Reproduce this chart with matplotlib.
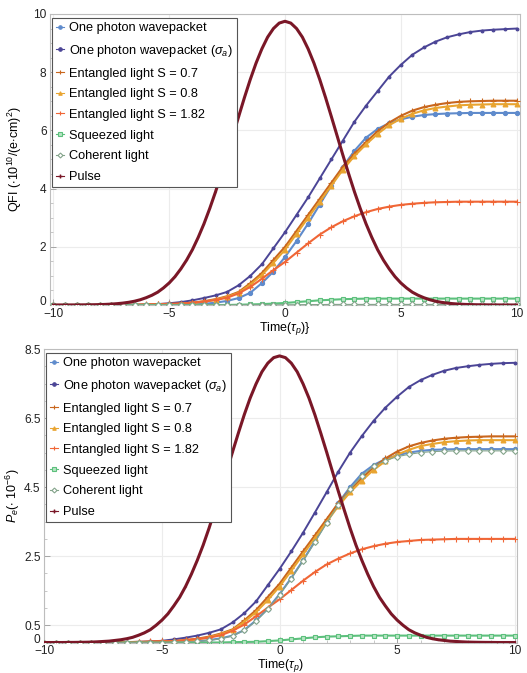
import numpy as np
import matplotlib
matplotlib.use('Agg')
import matplotlib.pyplot as plt
import matplotlib.transforms as mtrans
from matplotlib.ticker import MultipleLocator

plt.rcParams['font.family'] = ['Liberation Sans', 'DejaVu Sans']
plt.rcParams['mathtext.fontset'] = 'custom'
plt.rcParams['mathtext.rm'] = 'Liberation Sans'
plt.rcParams['mathtext.it'] = 'Liberation Sans:italic'

# time grid, tau_p units
t = np.linspace(-10, 10, 41)
# the pulse is sampled on a finer grid
tp = np.linspace(-10, 10, 81)

labels = ['One photon wavepacket', r'One photon wavepacket ($\sigma_a$)',
          'Entangled light S = 0.7', 'Entangled light S = 0.8',
          'Entangled light S = 1.82', 'Squeezed light', 'Coherent light', 'Pulse']

# ---- QFI panel ----
qfi_one = [0, 0, 0, 0, 0, 0, 0, 0, 0, 0, 0, 0.01, 0.02, 0.04, 0.08, 0.14, 0.24, 0.42, 0.75, 1.15,
           1.65, 2.2, 2.8, 3.45, 4.1, 4.75, 5.3, 5.75, 6.05, 6.25, 6.38, 6.47, 6.53, 6.56, 6.58, 6.59,
           6.6, 6.6, 6.6, 6.6, 6.6]
qfi_sig = [0, 0, 0, 0, 0, 0, 0.01, 0.01, 0.02, 0.03, 0.06, 0.1, 0.16, 0.24, 0.33, 0.45, 0.68, 1.0, 1.4, 1.95,
           2.5, 3.1, 3.7, 4.35, 5.0, 5.65, 6.3, 6.85, 7.35, 7.85, 8.25, 8.6, 8.85, 9.05, 9.2, 9.3,
           9.38, 9.43, 9.46, 9.48, 9.5]
qfi_s07 = [0, 0, 0, 0, 0, 0, 0, 0, 0.01, 0.02, 0.03, 0.05, 0.08, 0.13, 0.2, 0.3, 0.45, 0.75, 1.1, 1.55,
           2.0, 2.55, 3.1, 3.65, 4.2, 4.75, 5.2, 5.6, 5.97, 6.27, 6.5, 6.68, 6.8, 6.88, 6.94, 6.98,
           7.0, 7.01, 7.02, 7.02, 7.02]
qfi_s08 = [0, 0, 0, 0, 0, 0, 0, 0, 0.01, 0.01, 0.02, 0.04, 0.07, 0.11, 0.18, 0.28, 0.42, 0.7, 1.03, 1.45,
           1.9, 2.45, 3.0, 3.55, 4.1, 4.65, 5.12, 5.52, 5.88, 6.18, 6.4, 6.57, 6.69, 6.77, 6.82, 6.86,
           6.88, 6.89, 6.9, 6.9, 6.9]
qfi_s182 = [0, 0, 0, 0, 0, 0, 0.01, 0.01, 0.02, 0.03, 0.04, 0.05, 0.08, 0.12, 0.17, 0.25, 0.4, 0.62, 0.9, 1.2,
            1.48, 1.8, 2.12, 2.42, 2.67, 2.88, 3.05, 3.19, 3.3, 3.38, 3.44, 3.48, 3.51, 3.53, 3.54, 3.55,
            3.55, 3.55, 3.55, 3.55, 3.55]
qfi_sq = [0, 0, 0, 0, 0, 0, 0, 0, 0, 0, 0, 0, 0, 0, 0, 0, 0.01, 0.02, 0.03, 0.05,
          0.07, 0.1, 0.13, 0.16, 0.18, 0.2, 0.21, 0.22, 0.22, 0.22, 0.22, 0.22, 0.22, 0.22, 0.22, 0.22,
          0.22, 0.22, 0.22, 0.22, 0.22]
qfi_coh = [0, 0, 0, 0, 0, 0, 0, 0, 0, 0, 0, 0, 0, 0, 0, 0, 0, 0, 0.005, 0.005,
           0.01, 0.01, 0.015, 0.015, 0.02, 0.02, 0.02, 0.02, 0.02, 0.02, 0.02, 0.02, 0.02, 0.02, 0.02, 0.02,
           0.02, 0.02, 0.02, 0.02, 0.02]
qfi_pulse = [0, 0, 0, 0.001, 0.002,
             0.004, 0.006, 0.009, 0.014, 0.021, 0.031, 0.046, 0.066, 0.093, 0.13, 0.181, 0.25,
             0.334, 0.44, 0.586, 0.76, 0.975, 1.24, 1.544, 1.9, 2.321, 2.79, 3.318, 3.89, 4.507,
             5.15, 5.817, 6.48, 7.133, 7.75, 8.313, 8.8, 9.206, 9.5, 9.688,
             9.75,
             9.688, 9.5, 9.206, 8.8, 8.313, 7.75, 7.133, 6.48, 5.817, 5.15,
             4.507, 3.89, 3.318, 2.79, 2.321, 1.9, 1.544, 1.24, 0.975, 0.76, 0.586, 0.44, 0.334,
             0.25, 0.181, 0.13, 0.093, 0.066, 0.046, 0.031, 0.021, 0.014, 0.009, 0.006, 0.004,
             0.002, 0.001, 0, 0, 0]

# ---- P_e panel ----
pe_one = [0, 0, 0, 0, 0, 0, 0, 0, 0, 0, 0, 0.01, 0.02, 0.03, 0.07, 0.12, 0.2, 0.36, 0.64, 0.98,
          1.4, 1.87, 2.38, 2.93, 3.49, 4.04, 4.5, 4.89, 5.14, 5.31, 5.42, 5.5, 5.55, 5.58, 5.59, 5.6,
          5.6, 5.6, 5.6, 5.6, 5.6]
pe_sig = [0, 0, 0, 0, 0, 0, 0.01, 0.01, 0.02, 0.03, 0.05, 0.09, 0.14, 0.2, 0.28, 0.38, 0.58, 0.85, 1.19, 1.66,
          2.13, 2.64, 3.18, 3.76, 4.35, 4.95, 5.5, 5.98, 6.42, 6.8, 7.12, 7.4, 7.6, 7.75, 7.87, 7.95,
          8.0, 8.04, 8.07, 8.09, 8.1]
pe_s07 = [0, 0, 0, 0, 0, 0, 0, 0, 0.01, 0.02, 0.03, 0.04, 0.07, 0.11, 0.17, 0.26, 0.38, 0.64, 0.94, 1.32,
          1.7, 2.17, 2.64, 3.1, 3.57, 4.04, 4.42, 4.76, 5.07, 5.33, 5.53, 5.68, 5.78, 5.85, 5.9, 5.93,
          5.95, 5.96, 5.97, 5.97, 5.97]
pe_s08 = [0, 0, 0, 0, 0, 0, 0, 0, 0.01, 0.01, 0.02, 0.03, 0.06, 0.09, 0.15, 0.24, 0.36, 0.6, 0.88, 1.23,
          1.62, 2.08, 2.55, 3.02, 3.49, 3.95, 4.35, 4.69, 5.0, 5.25, 5.44, 5.58, 5.69, 5.75, 5.8, 5.83,
          5.85, 5.86, 5.86, 5.86, 5.86]
pe_s182 = [0, 0, 0, 0, 0, 0, 0.01, 0.01, 0.02, 0.03, 0.04, 0.04, 0.07, 0.1, 0.14, 0.21, 0.34, 0.52, 0.76, 1.01,
           1.25, 1.52, 1.79, 2.04, 2.26, 2.43, 2.58, 2.7, 2.79, 2.86, 2.91, 2.94, 2.97, 2.98, 2.99, 3.0,
           3.0, 3.0, 3.0, 3.0, 3.0]
pe_sq = [0, 0, 0, 0, 0, 0, 0, 0, 0, 0, 0, 0, 0, 0, 0, 0, 0.01, 0.015, 0.02, 0.04,
         0.06, 0.09, 0.12, 0.15, 0.17, 0.18, 0.19, 0.2, 0.2, 0.2, 0.2, 0.2, 0.2, 0.2, 0.2, 0.2,
         0.2, 0.2, 0.2, 0.2, 0.2]
pe_coh = [0, 0, 0, 0, 0, 0, 0, 0, 0, 0, 0, 0.01, 0.02, 0.03, 0.06, 0.11, 0.19, 0.35, 0.62, 0.96,
          1.38, 1.85, 2.36, 2.9, 3.45, 3.99, 4.44, 4.83, 5.1, 5.27, 5.38, 5.45, 5.5, 5.53, 5.54, 5.55,
          5.55, 5.55, 5.55, 5.55, 5.55]
pe_pulse = [0, 0, 0, 0, 0.002,
            0.003, 0.005, 0.008, 0.012, 0.02, 0.03, 0.04, 0.06, 0.08, 0.11, 0.15, 0.21,
            0.28, 0.37, 0.5, 0.65, 0.83, 1.06, 1.31, 1.62, 1.98, 2.38, 2.82, 3.31, 3.84,
            4.38, 4.95, 5.52, 6.07, 6.6, 7.08, 7.49, 7.84, 8.09, 8.25,
            8.3,
            8.25, 8.09, 7.84, 7.49, 7.08, 6.6, 6.07, 5.52, 4.95, 4.38,
            3.84, 3.31, 2.82, 2.38, 1.98, 1.62, 1.31, 1.06, 0.83, 0.65, 0.5, 0.37, 0.28,
            0.21, 0.15, 0.11, 0.08, 0.06, 0.04, 0.03, 0.02, 0.012, 0.008, 0.005, 0.003,
            0.002, 0, 0, 0, 0]

colors = ['#5f8bcc', '#4b4596', '#c9661d', '#e9a430', '#f06636', '#5cc07c', '#84a48b', '#7a1727']
markers = ['o', 'o', '+', '^', '+', 's', 'D', '+']
msizes = [3, 2, 4, 3.5, 4, 3.5, 3, 2]
mfaces = ['#5f8bcc', '#4b4596', '#c9661d', '#e9a430', '#f06636', '#b7e4c4', 'white', '#7a1727']
lws = [1.5, 1.4, 1.5, 1.5, 1.5, 1.5, 0.8, 2.2]

fig = plt.figure(figsize=(5.27, 6.73), dpi=100)
ax1 = fig.add_axes([50/527, 1-305/673, 470/527, 291/673])
ax2 = fig.add_axes([44/527, 1-642.5/673, 473/527, 293.5/673])


def draw(ax, series):
    for k in range(len(series)):
        if k == 7:
            ax.plot(tp, series[k], color=colors[k], marker=markers[k], ms=0.1, lw=lws[k],
                    label=labels[k], zorder=4)
        else:
            ax.plot(t, series[k], color=colors[k], marker=markers[k], ms=msizes[k], mfc=mfaces[k],
                    mec=colors[k], mew=0.8, lw=lws[k], label=labels[k], zorder=3)
    ax.grid(True, color='#ececec', lw=0.8, zorder=0)
    for s in ax.spines.values():
        s.set_color('#bdbdbd')
        s.set_linewidth(0.8)
    ax.tick_params(direction='in', length=4, width=0.6, color='#9a9a9a', labelsize=8.6,
                   labelcolor='#222222')
    ax.tick_params(axis='y', pad=2.5)
    ax.tick_params(axis='x', pad=2)
    ax.tick_params(which='minor', direction='in', length=2, width=0.5, color='#b0b0b0')
    ax.set_xticks([-10, -5, 0, 5, 10])
    ax.set_xticklabels(['\u221210', '\u22125', '0', '5', '10'])
    ax.xaxis.set_minor_locator(MultipleLocator(1))
    leg = ax.legend(loc='upper left', bbox_to_anchor=(0.004, 0.986), borderaxespad=0,
                    fontsize=9.2, frameon=True, fancybox=False, framealpha=1, edgecolor='#555555',
                    handlelength=0.6, handletextpad=0.45, labelspacing=0.68, borderpad=0.32)
    leg.get_frame().set_linewidth(0.8)
    for line in leg.get_lines():
        line.set_linewidth(0.8)
        line.set_markersize(2.5)


draw(ax1, [qfi_one, qfi_sig, qfi_s07, qfi_s08, qfi_s182, qfi_sq, qfi_coh, qfi_pulse])
ax1.set_xlim(-10.15, 10.15)
ax1.set_ylim(0, 10)
ax1.set_yticks([0, 2, 4, 6, 8, 10])
ax1.yaxis.set_minor_locator(MultipleLocator(0.5))
ax1.set_xlabel(r'Time($\tau_p$)}', fontsize=9, labelpad=0)
ax1.set_ylabel(r'QFI ($\mathregular{\cdot10^{10}}$/(e$\cdot$cm)$\mathregular{^2}$)', fontsize=9, labelpad=7)

draw(ax2, [pe_one, pe_sig, pe_s07, pe_s08, pe_s182, pe_sq, pe_coh, pe_pulse])
ax2.set_xlim(-10.02, 10.1)
ax2.set_ylim(0, 8.5)
ax2.set_yticks([0, 0.5, 2.5, 4.5, 6.5, 8.5])
ax2.set_yticklabels(['0', '0.5', '2.5', '4.5', '6.5', '8.5'])
ax2.yaxis.set_minor_locator(MultipleLocator(0.5))
ax2.set_xlabel(r'Time($\tau_p$)', fontsize=9, labelpad=0)
ax2.set_ylabel(r'$P_e$($\mathregular{\cdot\ 10^{-6}}$)', fontsize=9, labelpad=1.5)

# lift the "0" tick labels a little so they clear the "-10" below
for ax in [ax1, ax2]:
    lab = ax.get_yticklabels()[0]
    lab.set_transform(lab.get_transform() + mtrans.ScaledTranslation(0, 3/72, fig.dpi_scale_trans))

plt.savefig('out.png', dpi=100)
